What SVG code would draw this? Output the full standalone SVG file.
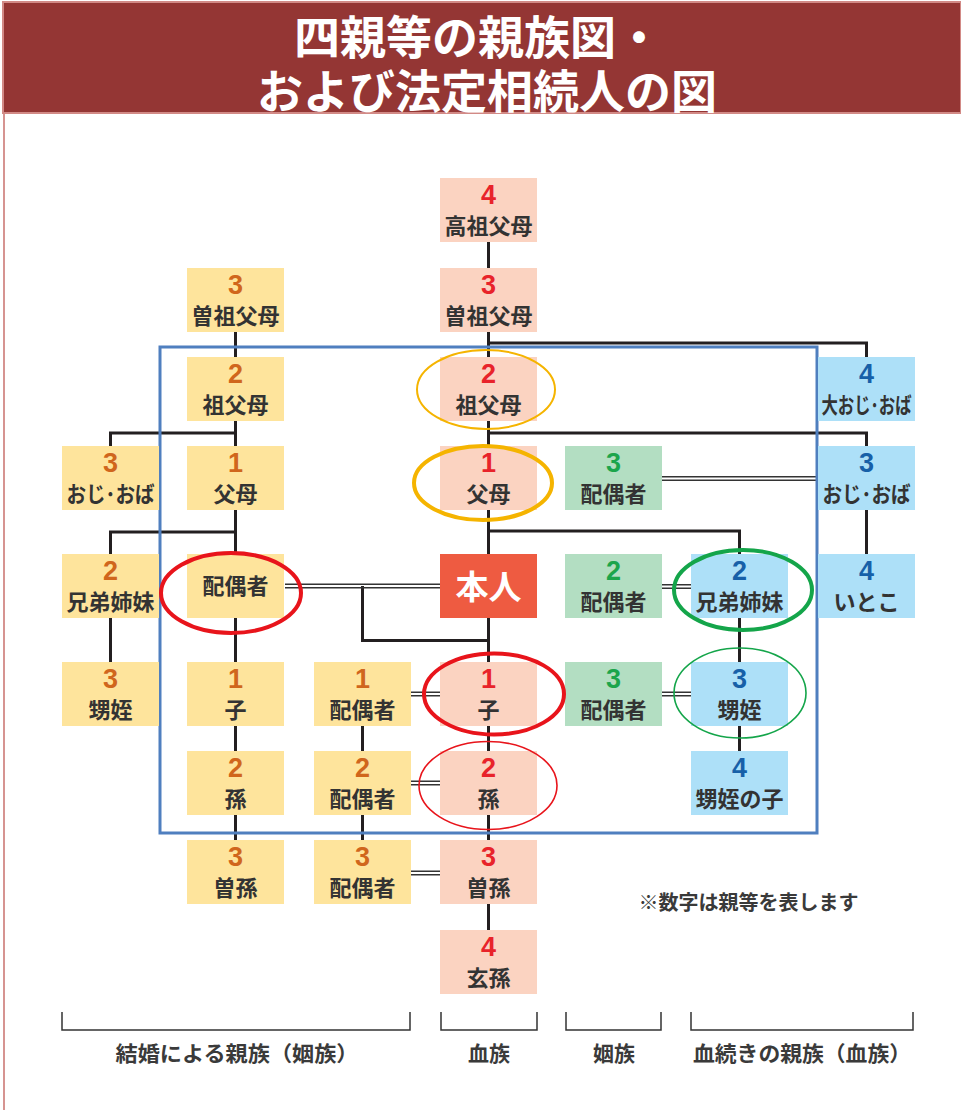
<svg xmlns="http://www.w3.org/2000/svg" width="961" height="1110" viewBox="0 0 961 1110">
<style>
.bx{stroke:none}
.pk{fill:#FBD3C1}.yl{fill:#FEE49C}.gr{fill:#B3DEC2}.bl{fill:#ADE0F8}
.num{font-family:"Liberation Sans",Arial,sans-serif;font-weight:bold;font-size:27px;text-anchor:middle}
.nr{fill:#E8232A}.no{fill:#D0661C}.ng{fill:#1BA54B}.nb{fill:#1760A8}
.lb{font-family:"Noto Sans CJK JP",sans-serif;font-weight:bold;font-size:22px;fill:#333;text-anchor:middle}
.cn{stroke:#231F20;stroke-width:3;fill:none}
.db{stroke:#333;stroke-width:1.4;fill:none}
.el{fill:none}
.ft{font-family:"Noto Sans CJK JP",sans-serif;font-weight:bold;font-size:21px;fill:#3a3a3a;text-anchor:middle}
</style>
<rect x="0" y="0" width="961" height="1110" fill="#fff"/>
<line x1="4" y1="112" x2="4" y2="1110" stroke="#C8706C" stroke-width="1.5"/>
<g id="header">
<rect x="3" y="2" width="958" height="111" fill="#943634" stroke="#D28A86" stroke-width="2"/>
<text x="478" y="54" font-family="'Noto Sans CJK JP',sans-serif" font-weight="bold" font-size="46" fill="#fff" text-anchor="middle">四親等の親族図・</text>
<text x="487" y="108" font-family="'Noto Sans CJK JP',sans-serif" font-weight="bold" font-size="46" fill="#fff" text-anchor="middle">および法定相続人の図</text>
</g>
<g id="connectors">
<path class="cn" d="M488.5,242V268M488.5,332V357M488.5,343H866.5V357M235.5,332V357M235.5,421V446M235.5,433H110.5V446M488.5,421V446M488.5,433H866.5V446M866.5,510V554M235.5,510V554M235.5,532H110.5V554M488.5,510V554M488.5,531H739.5V554M110.5,618V662M235.5,618V662M235.5,726V751M235.5,815V840M362.5,726V751M362.5,815V840M488.5,618V662M488.5,726V751M488.5,815V840M488.5,904V930M362.5,586V640.5H488.5M739.5,618V662M739.5,726V751"/>
<path class="db" d="M285,584.2H440M285,587.8H440M411,692.2H440M411,695.8H440M411,781.2H440M411,784.8H440M411,871.2H440M411,874.8H440M662,476.7H818M662,480.3H818M662,584.7H691M662,588.3H691M662,692.2H691M662,695.8H691"/>
</g>
<rect id="frame" x="160" y="347" width="657" height="486" fill="none" stroke="#4F7FBF" stroke-width="3"/>
<g id="n-kouso"><rect class="bx pk" x="440" y="178" width="97" height="64"/><text class="num nr" x="488.5" y="203.5">4</text><text class="lb" x="488.5" y="234">高祖父母</text></g>
<g id="n-soso-c"><rect class="bx pk" x="440" y="268" width="97" height="64"/><text class="num nr" x="488.5" y="293.5">3</text><text class="lb" x="488.5" y="324">曽祖父母</text></g>
<g id="n-sofu-c"><rect class="bx pk" x="440" y="357" width="97" height="64"/><text class="num nr" x="488.5" y="382.5">2</text><text class="lb" x="488.5" y="413">祖父母</text></g>
<g id="n-fubo-c"><rect class="bx pk" x="440" y="446" width="97" height="64"/><text class="num nr" x="488.5" y="471.5">1</text><text class="lb" x="488.5" y="502">父母</text></g>
<g id="n-honnin"><rect x="440" y="554" width="97" height="64" fill="#EE5B41"/><text x="488.5" y="599" font-family="'Noto Sans CJK JP',sans-serif" font-weight="bold" font-size="33" fill="#fff" text-anchor="middle">本人</text></g>
<g id="n-ko-c"><rect class="bx pk" x="440" y="662" width="97" height="64"/><text class="num nr" x="488.5" y="687.5">1</text><text class="lb" x="488.5" y="718">子</text></g>
<g id="n-mago-c"><rect class="bx pk" x="440" y="751" width="97" height="64"/><text class="num nr" x="488.5" y="776.5">2</text><text class="lb" x="488.5" y="807">孫</text></g>
<g id="n-himago-c"><rect class="bx pk" x="440" y="840" width="97" height="64"/><text class="num nr" x="488.5" y="865.5">3</text><text class="lb" x="488.5" y="896">曽孫</text></g>
<g id="n-yasha-c"><rect class="bx pk" x="440" y="930" width="97" height="64"/><text class="num nr" x="488.5" y="955.5">4</text><text class="lb" x="488.5" y="986">玄孫</text></g>
<g id="n-soso-l"><rect class="bx yl" x="187" y="268" width="97" height="64"/><text class="num no" x="235.5" y="293.5">3</text><text class="lb" x="235.5" y="324">曽祖父母</text></g>
<g id="n-sofu-l"><rect class="bx yl" x="187" y="357" width="97" height="64"/><text class="num no" x="235.5" y="382.5">2</text><text class="lb" x="235.5" y="413">祖父母</text></g>
<g id="n-fubo-l"><rect class="bx yl" x="187" y="446" width="97" height="64"/><text class="num no" x="235.5" y="471.5">1</text><text class="lb" x="235.5" y="502">父母</text></g>
<g id="n-haigu-l"><rect class="bx yl" x="187" y="554" width="97" height="64"/><text class="lb" x="235.5" y="594">配偶者</text></g>
<g id="n-ko-l"><rect class="bx yl" x="187" y="662" width="97" height="64"/><text class="num no" x="235.5" y="687.5">1</text><text class="lb" x="235.5" y="718">子</text></g>
<g id="n-mago-l"><rect class="bx yl" x="187" y="751" width="97" height="64"/><text class="num no" x="235.5" y="776.5">2</text><text class="lb" x="235.5" y="807">孫</text></g>
<g id="n-himago-l"><rect class="bx yl" x="187" y="840" width="97" height="64"/><text class="num no" x="235.5" y="865.5">3</text><text class="lb" x="235.5" y="896">曽孫</text></g>
<g id="n-oji-l"><rect class="bx yl" x="62" y="446" width="97" height="64"/><text class="num no" x="110.5" y="471.5">3</text><text class="lb" x="110.5" y="502" textLength="88" lengthAdjust="spacingAndGlyphs">おじ･おば</text></g>
<g id="n-kyodai-l"><rect class="bx yl" x="62" y="554" width="97" height="64"/><text class="num no" x="110.5" y="579.5">2</text><text class="lb" x="110.5" y="610">兄弟姉妹</text></g>
<g id="n-oimei-l"><rect class="bx yl" x="62" y="662" width="97" height="64"/><text class="num no" x="110.5" y="687.5">3</text><text class="lb" x="110.5" y="718">甥姪</text></g>
<g id="n-haigu1"><rect class="bx yl" x="314" y="662" width="97" height="64"/><text class="num no" x="362.5" y="687.5">1</text><text class="lb" x="362.5" y="718">配偶者</text></g>
<g id="n-haigu2"><rect class="bx yl" x="314" y="751" width="97" height="64"/><text class="num no" x="362.5" y="776.5">2</text><text class="lb" x="362.5" y="807">配偶者</text></g>
<g id="n-haigu3"><rect class="bx yl" x="314" y="840" width="97" height="64"/><text class="num no" x="362.5" y="865.5">3</text><text class="lb" x="362.5" y="896">配偶者</text></g>
<g id="n-g-haigu3a"><rect class="bx gr" x="565" y="446" width="97" height="64"/><text class="num ng" x="613.5" y="471.5">3</text><text class="lb" x="613.5" y="502">配偶者</text></g>
<g id="n-g-haigu2"><rect class="bx gr" x="565" y="554" width="97" height="64"/><text class="num ng" x="613.5" y="579.5">2</text><text class="lb" x="613.5" y="610">配偶者</text></g>
<g id="n-g-haigu3b"><rect class="bx gr" x="565" y="662" width="97" height="64"/><text class="num ng" x="613.5" y="687.5">3</text><text class="lb" x="613.5" y="718">配偶者</text></g>
<g id="n-kyodai-r"><rect class="bx bl" x="691" y="554" width="97" height="64"/><text class="num nb" x="739.5" y="579.5">2</text><text class="lb" x="739.5" y="610">兄弟姉妹</text></g>
<g id="n-oimei-r"><rect class="bx bl" x="691" y="662" width="97" height="64"/><text class="num nb" x="739.5" y="687.5">3</text><text class="lb" x="739.5" y="718">甥姪</text></g>
<g id="n-oimeiko"><rect class="bx bl" x="691" y="751" width="97" height="64"/><text class="num nb" x="739.5" y="776.5">4</text><text class="lb" x="739.5" y="807">甥姪の子</text></g>
<g id="n-ooji"><rect class="bx bl" x="818" y="357" width="97" height="64"/><text class="num nb" x="866.5" y="382.5">4</text><text class="lb" x="866.5" y="413" textLength="90" lengthAdjust="spacingAndGlyphs">大おじ･おば</text></g>
<g id="n-oji-r"><rect class="bx bl" x="818" y="446" width="97" height="64"/><text class="num nb" x="866.5" y="471.5">3</text><text class="lb" x="866.5" y="502" textLength="88" lengthAdjust="spacingAndGlyphs">おじ･おば</text></g>
<g id="n-itoko"><rect class="bx bl" x="818" y="554" width="97" height="64"/><text class="num nb" x="866.5" y="579.5">4</text><text class="lb" x="866.5" y="610">いとこ</text></g>
<g id="marks">
<ellipse class="el" cx="486" cy="389.5" rx="69" ry="39.5" stroke="#F5B400" stroke-width="2"/>
<ellipse class="el" cx="483" cy="483" rx="69" ry="37" stroke="#F5B400" stroke-width="4"/>
<ellipse class="el" cx="231" cy="593" rx="70" ry="40" stroke="#E8141B" stroke-width="4"/>
<ellipse class="el" cx="494" cy="694" rx="70" ry="40.5" stroke="#E8141B" stroke-width="4"/>
<ellipse class="el" cx="488" cy="785.5" rx="69" ry="44" stroke="#E8141B" stroke-width="1.6"/>
<ellipse class="el" cx="743" cy="590" rx="69" ry="40" stroke="#14A54A" stroke-width="4"/>
<ellipse class="el" cx="740" cy="693" rx="66" ry="45" stroke="#14A54A" stroke-width="1.6"/>
</g>
<text x="748.5" y="910" font-family="'Noto Sans CJK JP',sans-serif" font-weight="bold" font-size="20" fill="#3a3a3a" text-anchor="middle">※数字は親等を表します</text>
<g id="brackets">
<path d="M62,1012V1030H410V1012M441,1012V1030H537V1012M566,1012V1030H661V1012M691,1012V1030H913V1012" fill="none" stroke="#333" stroke-width="1.5"/>
<text class="ft" x="237" y="1061" textLength="243" lengthAdjust="spacingAndGlyphs">結婚による親族（姻族）</text>
<text class="ft" x="489" y="1061">血族</text>
<text class="ft" x="614" y="1061">姻族</text>
<text class="ft" x="802" y="1061" textLength="218" lengthAdjust="spacingAndGlyphs">血続きの親族（血族）</text>
</g>
</svg>
